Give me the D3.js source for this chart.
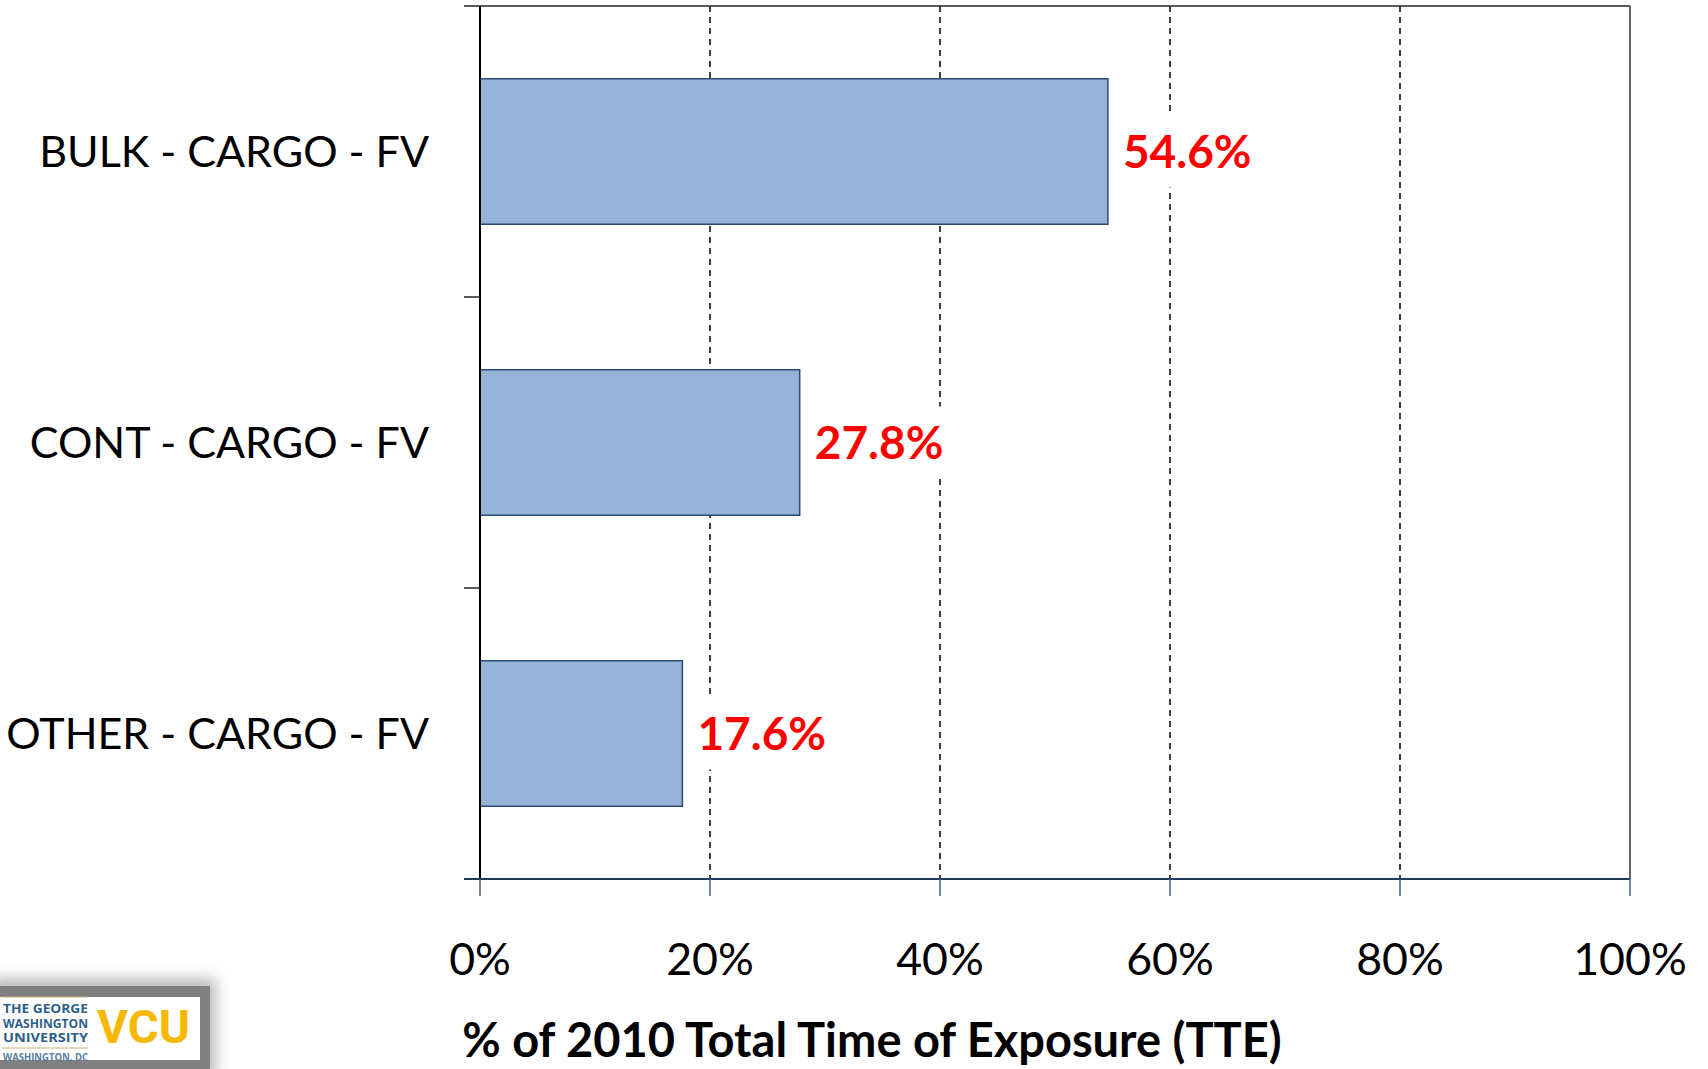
<!DOCTYPE html>
<html>
<head>
<meta charset="utf-8">
<script src="https://cdn.jsdelivr.net/npm/d3@7"></script>
<style>
  html, body { margin: 0; padding: 0; background: #fff; }
  svg { display: block; }
</style>
</head>
<body>
<div id="chart"></div>
<script>
var categories = ["BULK - CARGO - FV", "CONT - CARGO - FV", "OTHER - CARGO - FV"];
var shares = [54.6, 27.8, 17.6];
var tickValues = [0, 20, 40, 60, 80, 100];
var axisTitle = "% of 2010 Total Time of Exposure (TTE)";

var width = 1708, height = 1069;
var plotLeft = 480, plotRight = 1630, plotTop = 6, plotBottom = 879;
var font = "Lato, 'Open Sans', sans-serif";

var svg = d3.select("#chart")
    .append("svg")
    .attr("width", width)
    .attr("height", height);

var x = d3.scaleLinear().domain([0, 100]).range([plotLeft, plotRight]);
var y = d3.scaleBand().domain(categories).range([plotTop, plotBottom])
    .paddingInner(0.5).paddingOuter(0.25);

// dashed gridlines
svg.selectAll(".grid")
    .data(tickValues.slice(1, -1))
    .enter()
    .append("line")
    .attr("x1", function (d) { return x(d); })
    .attr("x2", function (d) { return x(d); })
    .attr("y1", plotTop)
    .attr("y2", plotBottom)
    .style("stroke", "#000")
    .style("stroke-width", 1.5)
    .style("stroke-dasharray", "6,5");

// plot border (top + right)
svg.append("line")
    .attr("x1", plotLeft).attr("x2", plotRight).attr("y1", plotTop).attr("y2", plotTop)
    .style("stroke", "#222").style("stroke-width", 1.5);
svg.append("line")
    .attr("x1", plotRight).attr("x2", plotRight).attr("y1", plotTop).attr("y2", plotBottom)
    .style("stroke", "#333").style("stroke-width", 1.5);

// bars
svg.selectAll(".bar")
    .data(shares)
    .enter()
    .append("rect")
    .attr("x", x(0))
    .attr("y", function (d, i) { return y(categories[i]); })
    .attr("width", function (d) { return x(d) - x(0); })
    .attr("height", y.bandwidth())
    .style("fill", "#95B3D7")
    .style("stroke", "#2c4a74")
    .style("stroke-width", 1.5);

// value labels with white backing
var labels = svg.selectAll(".val")
    .data(shares)
    .enter()
    .append("g")
    .attr("transform", function (d, i) {
        return "translate(" + (x(d) + 15) + "," + (y(categories[i]) + y.bandwidth() / 2) + ")";
    });

labels.append("rect")
    .attr("x", -4)
    .attr("y", -36)
    .attr("width", 134)
    .attr("height", 72)
    .style("fill", "#fff");

labels.append("text")
    .attr("y", 16.5)
    .style("fill", "#FF0000")
    .style("font-family", font)
    .style("font-weight", "bold")
    .style("font-size", "46px")
    .text(function (d) { return d.toFixed(1) + "%"; });

// y axis
svg.append("line")
    .attr("x1", plotLeft).attr("x2", plotLeft).attr("y1", plotTop).attr("y2", plotBottom)
    .style("stroke", "#000").style("stroke-width", 2);

var boundaries = categories.map(function (c) {
    return y(c) - y.step() * y.paddingOuter();
});
boundaries.push(plotBottom);

svg.selectAll(".ytick")
    .data(boundaries)
    .enter()
    .append("line")
    .attr("x1", plotLeft - 16).attr("x2", plotLeft)
    .attr("y1", function (d) { return d; })
    .attr("y2", function (d) { return d; })
    .style("stroke", "#222").style("stroke-width", 1.5);

svg.selectAll(".ylab")
    .data(categories)
    .enter()
    .append("text")
    .attr("x", plotLeft - 51)
    .attr("y", function (d) { return y(d) + y.bandwidth() / 2 + 15.5; })
    .attr("text-anchor", "end")
    .style("fill", "#000")
    .style("font-family", font)
    .style("font-size", "43px")
    .text(function (d) { return d; });

// x axis
svg.append("line")
    .attr("x1", plotLeft - 16).attr("x2", plotRight).attr("y1", plotBottom).attr("y2", plotBottom)
    .style("stroke", "#1f3a5c").style("stroke-width", 2);

svg.selectAll(".xtick")
    .data(tickValues)
    .enter()
    .append("line")
    .attr("x1", function (d) { return x(d); })
    .attr("x2", function (d) { return x(d); })
    .attr("y1", plotBottom)
    .attr("y2", plotBottom + 17)
    .style("stroke", "#3d5f8f").style("stroke-width", 1.5);

svg.selectAll(".xlab")
    .data(tickValues)
    .enter()
    .append("text")
    .attr("x", function (d) { return x(d); })
    .attr("y", 975)
    .attr("text-anchor", "middle")
    .style("fill", "#000")
    .style("font-family", font)
    .style("font-size", "44.7px")
    .text(function (d) { return d + "%"; });

svg.append("text")
    .attr("x", 872)
    .attr("y", 1057)
    .attr("text-anchor", "middle")
    .style("fill", "#000")
    .style("font-family", font)
    .style("font-weight", "bold")
    .style("font-size", "47px")
    .text(axisTitle);

// logo block bottom-left
var defs = svg.append("defs");
var blur = defs.append("filter").attr("id", "shadow")
    .attr("x", "-20%").attr("y", "-40%").attr("width", "140%").attr("height", "180%");
blur.append("feGaussianBlur").attr("stdDeviation", 7);

var logo = svg.append("g");
logo.append("rect")
    .attr("x", -10).attr("y", 978).attr("width", 226).attr("height", 100)
    .style("fill", "#bbb").attr("filter", "url(#shadow)");
logo.append("rect")
    .attr("x", 0).attr("y", 986).attr("width", 210).attr("height", 83)
    .style("fill", "#808080");
logo.append("rect")
    .attr("x", 0).attr("y", 997).attr("width", 200).attr("height", 63)
    .style("fill", "#fff");
logo.append("line")
    .attr("x1", 2).attr("x2", 88).attr("y1", 997).attr("y2", 997)
    .style("stroke", "#c9b27c").style("stroke-width", 1);
logo.append("line")
    .attr("x1", 2).attr("x2", 88).attr("y1", 1048).attr("y2", 1048)
    .style("stroke", "#c9b27c").style("stroke-width", 1);

var gwLines = ["THE GEORGE", "WASHINGTON", "UNIVERSITY"];
logo.selectAll(".gw")
    .data(gwLines)
    .enter()
    .append("text")
    .attr("x", 3)
    .attr("y", function (d, i) { return 1013 + i * 14.5; })
    .attr("textLength", 85)
    .attr("lengthAdjust", "spacingAndGlyphs")
    .style("fill", "#2d5f8b")
    .style("font-family", "'Open Sans', sans-serif")
    .style("font-weight", "bold")
    .style("font-size", "12.5px")
    .text(function (d) { return d; });

logo.append("text")
    .attr("x", 3).attr("y", 1061)
    .attr("textLength", 85)
    .attr("lengthAdjust", "spacingAndGlyphs")
    .style("fill", "#5a7ea0")
    .style("font-family", "'Open Sans', sans-serif")
    .style("font-weight", "bold")
    .style("font-size", "10px")
    .text("WASHINGTON, DC");

logo.append("text")
    .attr("x", 97).attr("y", 1043)
    .attr("textLength", 93)
    .attr("lengthAdjust", "spacingAndGlyphs")
    .style("fill", "#F6B800")
    .style("font-family", "'Roboto', sans-serif")
    .style("font-weight", "bold")
    .style("font-size", "47px")
    .text("VCU");
</script>
</body>
</html>
